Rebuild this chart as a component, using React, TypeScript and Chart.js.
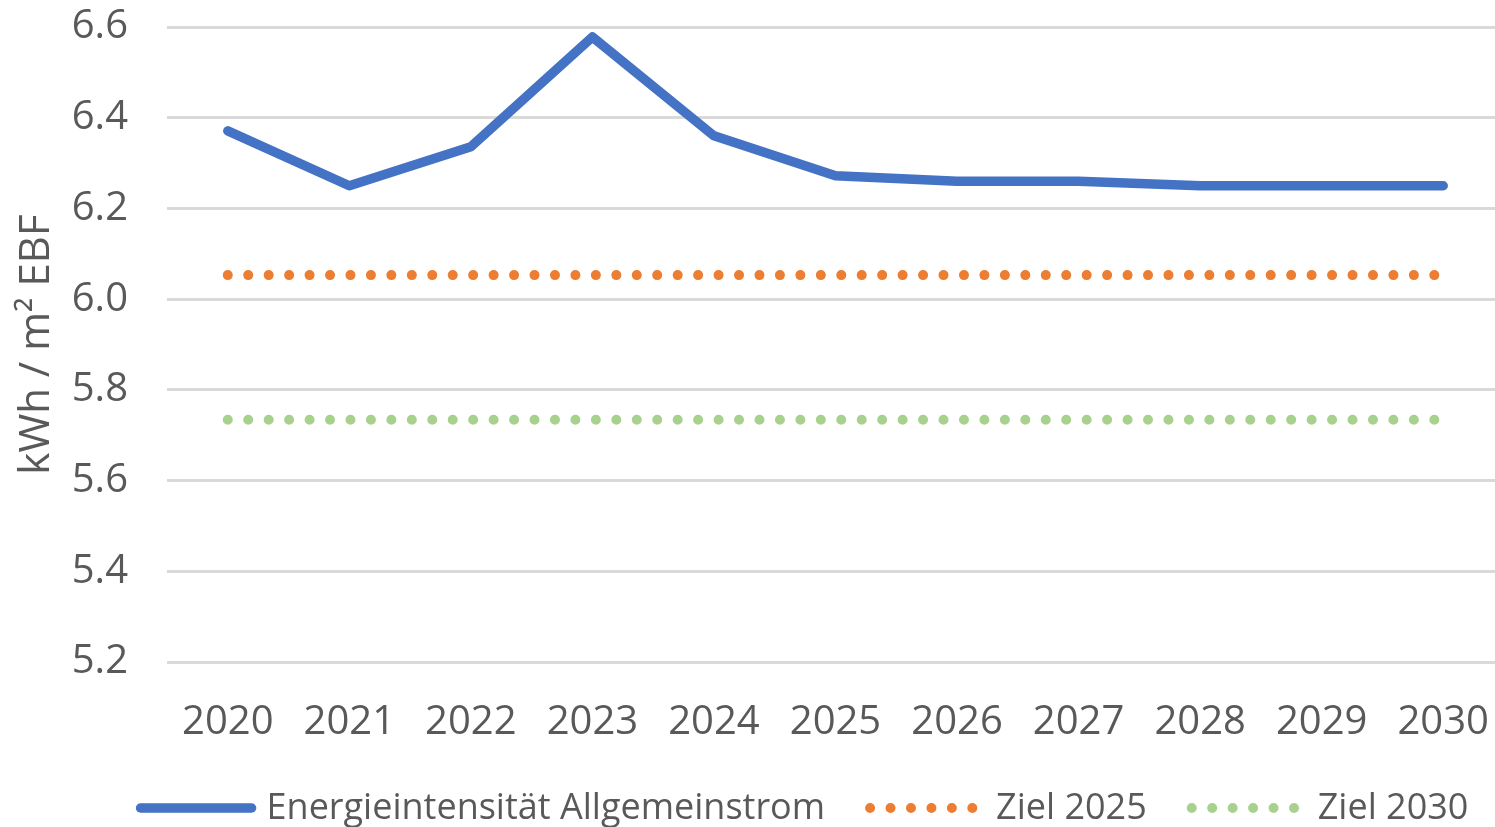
import React, { useEffect, useRef } from "react";
import { Chart, registerables } from "chart.js";

Chart.register(...registerables);

const categories = ["2020", "2021", "2022", "2023", "2024", "2025", "2026", "2027", "2028", "2029", "2030"];
const energyIntensity = [6.371, 6.25, 6.336, 6.578, 6.36, 6.272, 6.26, 6.26, 6.25, 6.25, 6.25];
const target2025 = [6.053, 6.053, 6.053, 6.053, 6.053, 6.053, 6.053, 6.053, 6.053, 6.053, 6.053];
const target2030 = [5.734, 5.734, 5.734, 5.734, 5.734, 5.734, 5.734, 5.734, 5.734, 5.734, 5.734];
const yTickValues = [5.2, 5.4, 5.6, 5.8, 6.0, 6.2, 6.4, 6.6];

const seriesLabels = ["Energieintensität Allgemeinstrom", "Ziel 2025", "Ziel 2030"];
const yAxisTitle = "kWh / m² EBF";

const TEXT_COLOR = "#595959";
const GRID_COLOR = "#D9D9D9";
const FONT = '"Open Sans", "Noto Sans", sans-serif';

const legendPlugin = {
  id: "excelLegend",
  afterDraw(chart: any) {
    const ctx = chart.ctx as CanvasRenderingContext2D;
    ctx.save();
    ctx.font = `36px ${FONT}`;
    const items = chart.data.datasets.map((ds: any) => ({
      label: ds.label as string,
      color: ds.borderColor as string,
      width: ds.borderWidth as number,
      dash: (ds.borderDash || []) as number[],
      tw: ctx.measureText(ds.label).width,
    }));
    const markerLen = 111;
    const textGap = 126;
    const itemGap = 45;
    const cap = 5;
    const total = cap + items.reduce((s: number, it: any) => s + textGap + it.tw, 0) + itemGap * (items.length - 1);
    let x0 = chart.width / 2 - total / 2 + cap;
    const y = 808;
    for (const it of items) {
      ctx.beginPath();
      ctx.strokeStyle = it.color;
      ctx.lineWidth = it.width;
      ctx.lineCap = "round";
      ctx.setLineDash(it.dash);
      ctx.moveTo(x0, y);
      ctx.lineTo(x0 + markerLen, y);
      ctx.stroke();
      ctx.setLineDash([]);
      ctx.fillStyle = TEXT_COLOR;
      ctx.textBaseline = "middle";
      ctx.textAlign = "left";
      ctx.fillText(it.label, x0 + textGap, y + 1);
      x0 += textGap + it.tw + itemGap;
    }
    ctx.restore();
  },
};

export default function App() {
  const canvasRef = useRef<HTMLCanvasElement | null>(null);

  useEffect(() => {
    if (!canvasRef.current) return;
    const chart = new Chart(canvasRef.current, {
      type: "line",
      data: {
        labels: categories,
        datasets: [
          {
            label: seriesLabels[0],
            data: energyIntensity,
            borderColor: "#4472C4",
            backgroundColor: "#4472C4",
            borderWidth: 9.5,
            borderCapStyle: "round",
            borderJoinStyle: "round",
            pointRadius: 0,
            tension: 0,
            fill: false,
          },
          {
            label: seriesLabels[1],
            data: target2025,
            borderColor: "#ED7D31",
            backgroundColor: "#ED7D31",
            borderWidth: 10,
            borderDash: [0, 20.45],
            borderCapStyle: "round",
            pointRadius: 0,
            fill: false,
          },
          {
            label: seriesLabels[2],
            data: target2030,
            borderColor: "#A9D18E",
            backgroundColor: "#A9D18E",
            borderWidth: 10,
            borderDash: [0, 20.45],
            borderCapStyle: "round",
            pointRadius: 0,
            fill: false,
          },
        ],
      },
      options: {
        responsive: false,
        animation: false,
        layout: { padding: { top: 27, right: 100, bottom: 75, left: 0 } },
        plugins: {
          legend: { display: false },
          tooltip: { enabled: false },
        },
        scales: {
          x: {
            offset: true,
            grid: { display: false, drawTicks: false },
            border: { display: false },
            ticks: {
              color: TEXT_COLOR,
              font: { family: FONT, size: 40 },
              padding: 37,
              maxRotation: 0,
              autoSkip: false,
            },
            afterFit(scale: any) {
              scale.height = 90;
            },
          },
          y: {
            min: 5.2,
            max: 6.6,
            grid: { color: GRID_COLOR, lineWidth: 3, drawTicks: false },
            border: { display: false },
            ticks: {
              color: TEXT_COLOR,
              font: { family: FONT, size: 40 },
              padding: 39,
              callback: (v: any) => Number(v).toFixed(1),
            },
            afterBuildTicks(scale: any) {
              scale.ticks = yTickValues.map((v) => ({ value: v }));
            },
            afterFit(scale: any) {
              scale.width = 167;
              scale.paddingTop = 20;
              scale.paddingBottom = 20;
            },
            title: {
              display: true,
              text: yAxisTitle,
              color: TEXT_COLOR,
              font: { family: FONT, size: 42 },
              padding: { top: 12, bottom: 0 },
            },
          },
        },
      },
      plugins: [legendPlugin],
    });
    return () => chart.destroy();
  }, []);

  return (
    <div style={{ position: "fixed", left: 0, top: 0, width: 1495, height: 827, overflow: "hidden", background: "#fff" }}>
      <canvas ref={canvasRef} width={1604} height={827} style={{ width: 1604, height: 827, display: "block" }} />
    </div>
  );
}
